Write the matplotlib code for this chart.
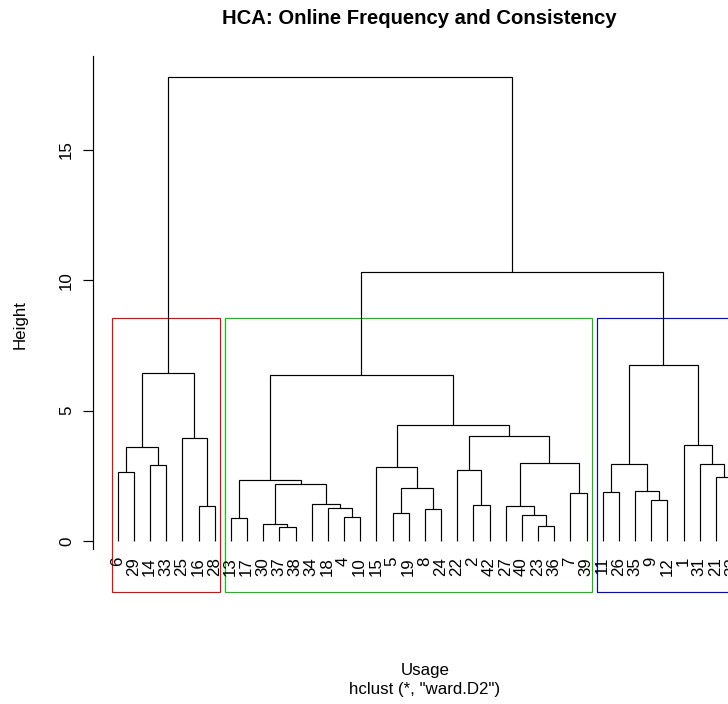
import matplotlib
matplotlib.use("Agg")
import matplotlib.pyplot as plt
from matplotlib.patches import Rectangle
from matplotlib.transforms import offset_copy

plt.rcParams['font.family'] = ['Liberation Sans', 'DejaVu Sans']

# hclust merge table (R convention: negative = observation id, positive = earlier merge step)
merge_left = [-37, -23, -30, -13, -4, -40, -5, -8, -18, -16, -27, -2, -34, -9, -7,
              -11, -35, 7, 3, 4, -21, -6, -22, -15, -14, -31, 16, 11, 22, -1,
              -25, 23, 24, 20, 29, 27, 34, 35]
merge_right = [-38, -36, 1, -17, -10, 2, -19, -24, 5, -28, 6, -42, 9, -12, -39,
               -26, 14, 8, 13, 19, -32, -29, 12, 18, -33, 21, 17, 15, 25, 26,
               10, 28, 32, 33, 31, 30, 36, 37]
merge_height = [0.52, 0.58, 0.65, 0.87, 0.93, 1.00, 1.06, 1.22, 1.25, 1.34, 1.35,
                1.38, 1.42, 1.57, 1.85, 1.89, 1.91, 2.02, 2.19, 2.34, 2.47, 2.65,
                2.72, 2.85, 2.92, 2.94, 2.97, 3.00, 3.61, 3.67, 3.95, 4.03, 4.45,
                6.37, 6.43, 6.76, 10.33, 17.81]
n_groups = 3
group_colors = ['#FF0000', '#00CD00', '#0000FF']
y_ticks = [0, 5, 10, 15]

title = "HCA: Online Frequency and Consistency"
x_label = "Usage"
sub_label = 'hclust (*, "ward.D2")'
y_label = "Height"

W, H = 728, 704
fig = plt.figure(figsize=(W / 100, H / 100), dpi=100)

root = len(merge_height)


def leaves(node):
    if node < 0:
        return [-node]
    return leaves(merge_left[node - 1]) + leaves(merge_right[node - 1])


order = leaves(root)
n = len(order)
pos = {lab: i + 1 for i, lab in enumerate(order)}


def node_x(node):
    if node < 0:
        return pos[-node]
    return (node_x(merge_left[node - 1]) + node_x(merge_right[node - 1])) / 2


def node_h(node):
    return 0.0 if node < 0 else merge_height[node - 1]


# plot region geometry (pixels)
px_left, px_right = 93.1, 756.7
px_top, px_bottom = 56.0, 592.3
ax = fig.add_axes([px_left / W, 1 - px_bottom / H,
                   (px_right - px_left) / W, (px_bottom - px_top) / H])
pad = 0.04 * (n - 1)
ax.set_xlim(1 - pad, n + pad)
ymin, ymax = -1.968, 18.60
ax.set_ylim(ymin, ymax)
ax.patch.set_alpha(0)

# dendrogram branches
for i in range(root):
    a, b = merge_left[i], merge_right[i]
    xa, xb = node_x(a), node_x(b)
    ha_, hb_ = node_h(a), node_h(b)
    h = merge_height[i]
    ax.plot([xa, xa, xb, xb], [ha_, h, h, hb_], color='black', lw=0.85,
            solid_joinstyle='miter', solid_capstyle='butt')

# leaf labels
lab_tr = offset_copy(ax.transData, fig=fig, x=4, y=-16, units='dots')
for lab in order:
    ax.text(pos[lab], 0, str(lab), rotation=90, rotation_mode='anchor',
            ha='right', va='baseline', fontsize=12.2, transform=lab_tr,
            clip_on=False)

# cluster rectangles (rect.hclust, k groups)
hs = sorted(merge_height, reverse=True)
h_cut = (hs[n_groups - 2] + hs[n_groups - 1]) / 2


def clusters(node):
    if node > 0 and node_h(node) > h_cut:
        return clusters(merge_left[node - 1]) + clusters(merge_right[node - 1])
    return [len(leaves(node))]


sizes = clusters(root)
m = [0]
for s in sizes:
    m.append(m[-1] + s)
for i, col in enumerate(group_colors):
    x0 = m[i] + 0.66
    x1 = m[i + 1] + 0.33
    ax.add_patch(Rectangle((x0, ymin), x1 - x0, h_cut - ymin, fill=False,
                           edgecolor=col, lw=0.85, clip_on=False))

# axes
for side in ['top', 'right', 'bottom']:
    ax.spines[side].set_visible(False)
ax.spines['left'].set_bounds(-0.3, ymax)
ax.spines['left'].set_linewidth(0.85)
ax.set_xticks([])
ax.set_yticks(y_ticks)
ax.set_yticklabels([str(t) for t in y_ticks], rotation=90, va='center',
                   fontsize=12.2)
ax.tick_params(axis='y', length=7.2, width=0.85, pad=6.6)

cx = (px_left + px_right) / 2 / W
fig.text(419 / W, 1 - 24 / H, title, ha='center', va='baseline', fontsize=14.6,
         fontweight='bold')
fig.text(cx, 1 - 674.7 / H, x_label, ha='center', va='baseline', fontsize=12.2)
fig.text(cx, 1 - 694 / H, sub_label, ha='center', va='baseline', fontsize=12.2)
fig.text(25 / W, 1 - ((px_top + px_bottom) / 2) / H, y_label, rotation=90,
         rotation_mode='anchor', ha='center', va='baseline', fontsize=12.2)

fig.savefig('out.png', dpi=100)
